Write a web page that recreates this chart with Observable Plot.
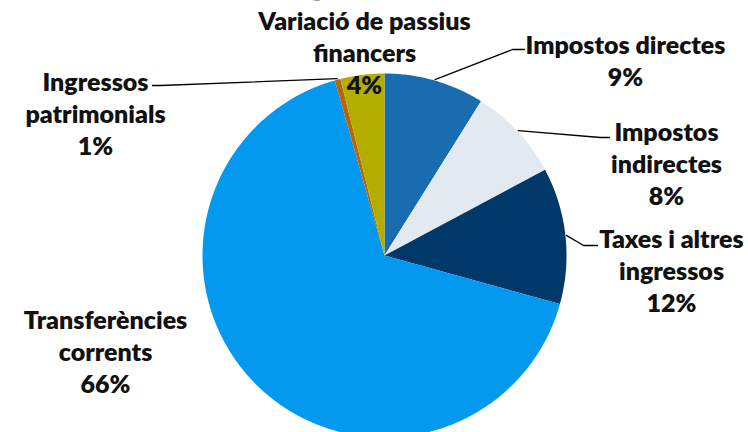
<!DOCTYPE html>
<html><head><meta charset="utf-8">
<script src="https://cdn.jsdelivr.net/npm/d3@7"></script>
<script src="https://cdn.jsdelivr.net/npm/@observablehq/plot@0.6"></script>
<style>
body{margin:0;background:#fff;overflow:hidden;}
#chart svg{display:block;}
</style>
</head><body><div id="chart"></div>
<script>
// ---- data ----
const categories = ["Impostos directes","Impostos indirectes","Taxes i altres ingressos","Transferències corrents","Ingressos patrimonials","Variació de passius financers"];
const values = [8.9, 8.3, 12.1, 66.3, 0.5, 3.9];
const percentLabels = ["9%","8%","12%","66%","1%","4%"];
const labelLines = [["Impostos directes"],["Impostos","indirectes"],["Taxes i altres","ingressos"],["Transferències","corrents"],["Ingressos","patrimonials"],["Variació de passius","financers"]];
const colors = ["#1a6cb1","#e3e9f1","#00386a","#0399ef","#b8640c","#b3ad00"];
const titleText = "Ingressos";

// ---- layout (pixels) ----
const W = 748, H = 432;
const cx = 384, cy = 255, R = 182;
// label block centres and leader-line elbows/ends
const labelPos = [
  {x: 625, y: 59, elbow: [512, 49], end: [524, 49]},
  {x: 666, y: 162, elbow: [600, 137], end: [609, 137]},
  {x: 671, y: 269, elbow: [583, 245], end: [597, 245]},
  {x: 105, y: 350, elbow: null, end: null},
  {x: 95, y: 112, elbow: [160, 85], end: [152, 85]},
  {x: 364, y: 35, elbow: null, end: null}
];
const insidePct = {x: 364, y: 85};

// ---- geometry from data ----
const total = d3.sum(values);
const slices = [];
let acc = 0;
const pt = (a, r) => [cx + r * Math.sin(a), cy - r * Math.cos(a)];
const mids = [];
values.forEach((v, i) => {
  const a0 = acc / total * 2 * Math.PI;
  acc += v;
  const a1 = acc / total * 2 * Math.PI;
  mids.push((a0 + a1) / 2);
  const n = Math.max(2, Math.ceil((a1 - a0) / 0.01));
  slices.push({cat: categories[i], x: cx, y: cy});
  for (let k = 0; k <= n; k++) {
    const [x, y] = pt(a0 + (a1 - a0) * k / n, R);
    slices.push({cat: categories[i], x, y});
  }
});

const leaders = [];
categories.forEach((c, i) => {
  const L = labelPos[i];
  if (!L.elbow) return;
  const [sx, sy] = pt(mids[i], R + 1);
  leaders.push({cat: c, x: sx, y: sy});
  leaders.push({cat: c, x: L.elbow[0], y: L.elbow[1]});
  leaders.push({cat: c, x: L.end[0], y: L.end[1]});
});

const labels = categories.map((c, i) => ({
  text: (i === 5 ? labelLines[i] : labelLines[i].concat([percentLabels[i]])).join("\n"),
  x: labelPos[i].x, y: labelPos[i].y
}));

const chart = Plot.plot({
  width: W, height: H,
  margin: 0,
  x: {domain: [0, W], range: [0, W], axis: null},
  y: {domain: [0, H], range: [0, H], axis: null},
  color: {domain: categories, range: colors},
  style: {fontFamily: "Lato, 'Open Sans', sans-serif", background: "#fff"},
  marks: [
    Plot.line(slices, {x: "x", y: "y", z: "cat", fill: "cat", stroke: "none", curve: "linear-closed"}),
    Plot.line(leaders, {x: "x", y: "y", z: "cat", stroke: "#000", strokeWidth: 1.3}),
    Plot.text(labels, {x: "x", y: "y", text: "text", fontSize: 25, fontWeight: 800, lineHeight: 1.28, fill: "#111", textAnchor: "middle", lineAnchor: "middle"}),
    Plot.text([percentLabels[5]], {x: insidePct.x, y: insidePct.y, text: d => d, fontSize: 25, fontWeight: 800, fill: "#111", lineAnchor: "middle"}),
    Plot.text([titleText], {x: 360, y: -22, text: d => d, fontSize: 44, fontWeight: 800, fill: "#111", lineAnchor: "middle"})
  ]
});
document.getElementById("chart").appendChild(chart);
</script>
</body></html>
